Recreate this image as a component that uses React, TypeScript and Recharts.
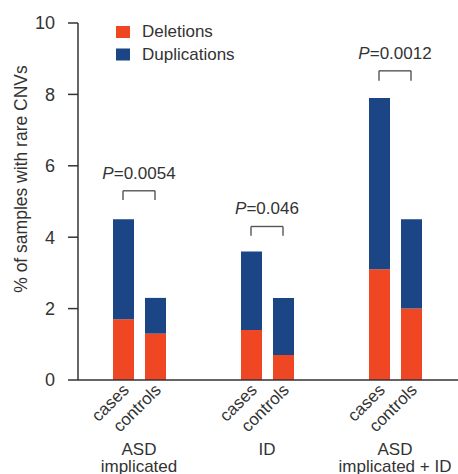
import React from 'react';
import { BarChart, Bar, XAxis, YAxis, ReferenceLine, Legend } from 'recharts';

const categories = ['asd-cases', 'asd-controls', 'gap1', 'gap2', 'id-cases', 'id-controls', 'gap3', 'gap4', 'asdid-cases', 'asdid-controls'];
const tickLabels = ['cases', 'controls', '', '', 'cases', 'controls', '', '', 'cases', 'controls'];
const deletions = [1.7, 1.3, null, null, 1.4, 0.7, null, null, 3.1, 2.0];
const duplications = [2.8, 1.0, null, null, 2.2, 1.6, null, null, 4.8, 2.5];
const seriesNames = ['Deletions', 'Duplications'];
const seriesColors = ['#EF4623', '#1B4584'];
const groupLabels = [['ASD', 'implicated'], ['ID'], ['ASD', 'implicated + ID']];
const groupStart = ['asd-cases', 'id-cases', 'asdid-cases'];
const groupEnd = ['asd-controls', 'id-controls', 'asdid-controls'];
const pValues = ['0.0054', '0.046', '0.0012'];
const bracketTops = [5.3, 4.3, 8.66];
const bracketLegs = [5.04, 4.04, 8.38];
const yTicks = [0, 2, 4, 6, 8, 10];
const yLabel = '% of samples with rare CNVs';

const FONT = '"Liberation Sans", Arial, Helvetica, sans-serif';
const TEXT = '#333';

const data = categories.map((c, i) => ({
  cat: c,
  del: deletions[i],
  dup: duplications[i],
}));

const XTick = (props: any) => {
  const { x, y, payload } = props;
  const i = categories.indexOf(payload.value);
  const label = tickLabels[i];
  const gi = groupStart.indexOf(payload.value);
  const ax = x + 7;
  const ay = y + 11;
  return (
    <g>
      {label ? (
        <text
          x={ax}
          y={ay}
          transform={`rotate(-45, ${ax}, ${ay})`}
          textAnchor="end"
          fontSize={17}
          fill={TEXT}
          fontFamily={FONT}
        >
          {label}
        </text>
      ) : null}
      {gi >= 0
        ? groupLabels[gi].map((ln, k) => (
            <text
              key={k}
              x={x + 16}
              y={y + 74.5 + k * 17.5}
              textAnchor="middle"
              fontSize={17}
              fill={TEXT}
              fontFamily={FONT}
            >
              {ln}
            </text>
          ))
        : null}
    </g>
  );
};

const PLabel = (props: any) => {
  const { viewBox, p } = props;
  if (!viewBox) return null;
  const cx = viewBox.x + (viewBox.width || 0) / 2;
  return (
    <text x={cx} y={viewBox.y - 12} textAnchor="middle" fontSize={17} fill={TEXT} fontFamily={FONT}>
      <tspan fontStyle="italic">P</tspan>
      <tspan>={p}</tspan>
    </text>
  );
};

const YLabel = (props: any) => {
  const { viewBox } = props;
  if (!viewBox) return null;
  const x = 27;
  const y = 179;
  return (
    <text
      x={x}
      y={y}
      transform={`rotate(-90, ${x}, ${y})`}
      textAnchor="middle"
      fontSize={17.5}
      fill={TEXT}
      fontFamily={FONT}
    >
      {yLabel}
    </text>
  );
};

const LegendBox = () => (
  <svg width={200} height={50} style={{ display: 'block' }}>
    {seriesNames.map((n, i) => (
      <g key={n}>
        <rect x={6} y={6 + i * 22.5} width={14} height={12} fill={seriesColors[i]} />
        <text x={32} y={17 + i * 22.5} fontSize={17} fill={TEXT} fontFamily={FONT}>
          {n}
        </text>
      </g>
    ))}
  </svg>
);

export default function App() {
  return (
    <div style={{ position: 'absolute', left: 0, top: 0, width: 458, height: 474, background: '#fff' }}>
      <BarChart width={458} height={474} data={data} margin={{ top: 23, right: 0, bottom: 0, left: 0 }} barSize={21}>
        <XAxis
          dataKey="cat"
          type="category"
          interval={0}
          height={94}
          tickSize={0}
          tickMargin={0}
          tickLine={false}
          axisLine={{ stroke: TEXT, strokeWidth: 1.5 }}
          padding={{ left: 29, right: 31 }}
          tick={<XTick />}
        />
        <YAxis
          type="number"
          domain={[0, 10]}
          ticks={yTicks}
          width={78}
          tickSize={10}
          tickMargin={13}
          axisLine={{ stroke: TEXT, strokeWidth: 1.5 }}
          tickLine={{ stroke: TEXT, strokeWidth: 1.5 }}
          tick={{ fontSize: 18, fill: TEXT, fontFamily: FONT }}
          label={<YLabel />}
        />
        <Legend
          layout="horizontal"
          verticalAlign="middle"
          align="center"
          wrapperStyle={{ position: 'absolute', top: 20, left: 110, width: 200, height: 50 }}
          content={() => <LegendBox />}
        />
        <Bar dataKey="del" name={seriesNames[0]} stackId="a" fill={seriesColors[0]} isAnimationActive={false} />
        <Bar dataKey="dup" name={seriesNames[1]} stackId="a" fill={seriesColors[1]} isAnimationActive={false} />
        {pValues.map((p, i) => (
          <ReferenceLine
            key={'h' + i}
            segment={[
              { x: groupStart[i], y: bracketTops[i] },
              { x: groupEnd[i], y: bracketTops[i] },
            ]}
            stroke="#555"
            strokeWidth={1.4}
            label={<PLabel p={p} />}
          />
        ))}
        {pValues.map((p, i) => (
          <ReferenceLine
            key={'l' + i}
            segment={[
              { x: groupStart[i], y: bracketLegs[i] },
              { x: groupStart[i], y: bracketTops[i] },
            ]}
            stroke="#555"
            strokeWidth={1.4}
          />
        ))}
        {pValues.map((p, i) => (
          <ReferenceLine
            key={'r' + i}
            segment={[
              { x: groupEnd[i], y: bracketLegs[i] },
              { x: groupEnd[i], y: bracketTops[i] },
            ]}
            stroke="#555"
            strokeWidth={1.4}
          />
        ))}
      </BarChart>
    </div>
  );
}
